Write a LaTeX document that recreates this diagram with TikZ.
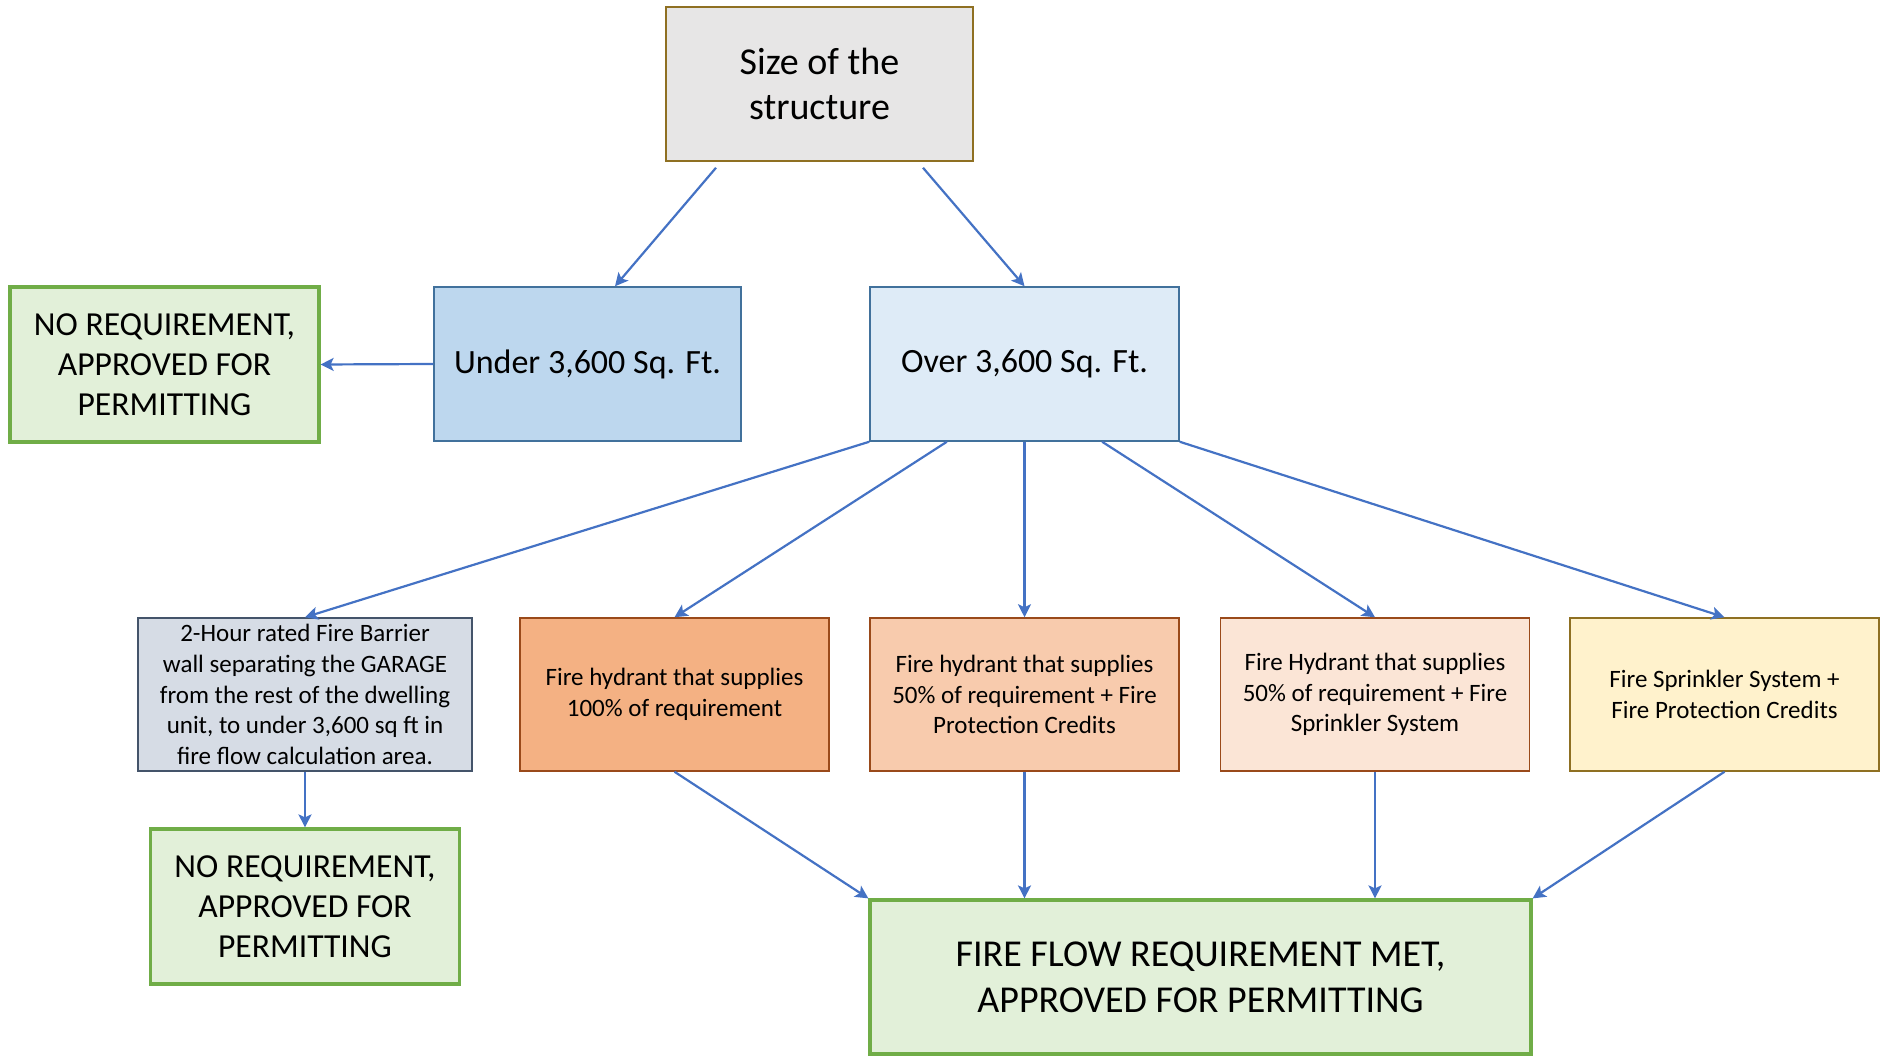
\documentclass[tikz,border=0pt]{standalone}
\usepackage{fontspec}
\setmainfont{Carlito}
\usetikzlibrary{arrows.meta,calc}
\definecolor{arr}{HTML}{4472C4}
\definecolor{grnb}{HTML}{70AD47}
\definecolor{grnf}{HTML}{E2F0D9}
\definecolor{topf}{HTML}{E7E6E6}
\definecolor{topb}{HTML}{8F7022}
\definecolor{bluel}{HTML}{BDD7EE}
\definecolor{bluev}{HTML}{DEEBF7}
\definecolor{blueb}{HTML}{41719C}
\definecolor{grayf}{HTML}{D6DCE5}
\definecolor{grayb}{HTML}{44546A}
\definecolor{orf}{HTML}{F4B183}
\definecolor{or2f}{HTML}{F8CBAD}
\definecolor{or3f}{HTML}{FBE5D6}
\definecolor{orb}{HTML}{9A4A1A}
\definecolor{yelf}{HTML}{FFF2CC}
\definecolor{yelb}{HTML}{8F7022}
\begin{document}
\begin{tikzpicture}[x=0.5pt,y=-0.5pt,
  basebox/.style={draw, rectangle, inner sep=2pt, align=center, line width=0.75pt, text=black},
  okbox/.style={basebox, draw=grnb, fill=grnf, line width=1.6pt, minimum width=154.5pt, minimum height=77.5pt,
    font=\fontsize{16.8}{20}\selectfont},
  rowbox/.style={basebox, minimum width=154.5pt, minimum height=76.5pt, font=\fontsize{12.5}{15.3}\selectfont},
  conn/.style={draw=arr, line width=1.1pt, -{Stealth[length=6.5pt,width=6.5pt,inset=1.5pt]}}]
\useasboundingbox (0,0) rectangle (1884,1058);

\node[basebox, fill=topf, draw=topb, minimum width=153.5pt, minimum height=77pt,
  font=\fontsize{19}{22.5}\selectfont] (top) at (819.5,84) {Size of the\\structure};

\node[basebox, fill=bluel, draw=blueb, minimum width=153.5pt, minimum height=77pt,
  font=\fontsize{17}{20}\selectfont] (under) at (587.5,364) {Under 3,600 Sq. Ft.};
\node[basebox, fill=bluev, draw=blueb, minimum width=154.5pt, minimum height=77pt,
  font=\fontsize{17}{20}\selectfont] (over) at (1024.5,364) {Over 3,600 Sq. Ft.};

\node[okbox] (lg) at (164.5,364.5) {NO REQUIREMENT,\\APPROVED FOR\\PERMITTING};

\node[rowbox, fill=grayf, draw=grayb, minimum width=167pt] (b1) at (305,694.5)
  {2-Hour rated Fire Barrier\\wall separating the GARAGE\\from the rest of the dwelling\\unit, to under 3,600 sq ft in\\fire flow calculation area.};
\node[rowbox, fill=orf, draw=orb] (b2) at (674.5,694.5) {Fire hydrant that supplies\\100\% of requirement};
\node[rowbox, fill=or2f, draw=orb] (b3) at (1024.5,694.5) {Fire hydrant that supplies\\50\% of requirement + Fire\\Protection Credits};
\node[rowbox, fill=or3f, draw=orb] (b4) at (1375,694.5) {Fire Hydrant that supplies\\50\% of requirement + Fire\\Sprinkler System};
\node[rowbox, fill=yelf, draw=yelb] (b5) at (1724.5,694.5) {Fire Sprinkler System +\\Fire Protection Credits};

\node[okbox] (bl) at (305,906.5) {NO REQUIREMENT,\\APPROVED FOR\\PERMITTING};
\node[okbox, minimum width=330.5pt, minimum height=77pt, font=\fontsize{19}{23}\selectfont] (fin) at (1200.5,977)
  {FIRE FLOW REQUIREMENT MET,\\APPROVED FOR PERMITTING};

% connectors
\draw[conn] ($(top.south)+(-103.5,6)$) -- ($(under.north)+(27.5,0)$);
\draw[conn] ($(top.south)+(103.5,6)$) -- (over.north);
\draw[conn] (under.west) -- (lg.east);

\draw[conn] (over.south west) -- (b1.north);
\draw[conn] ($(over.south west)!0.25!(over.south east)$) -- (b2.north);
\draw[conn] (over.south) -- (b3.north);
\draw[conn] ($(over.south west)!0.75!(over.south east)$) -- (b4.north);
\draw[conn] (over.south east) -- (b5.north);

\draw[conn] (b1.south) -- (bl.north);
\draw[conn] (b2.south) -- (fin.north west);
\draw[conn] (b3.south) -- (b3.south |- fin.north);
\draw[conn] (b4.south) -- (b4.south |- fin.north);
\draw[conn] (b5.south) -- (fin.north east);
\end{tikzpicture}
\end{document}
